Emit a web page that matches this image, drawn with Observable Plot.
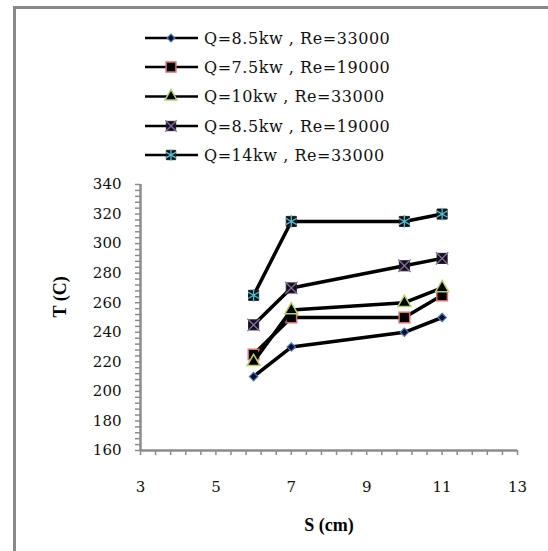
<!DOCTYPE html>
<html><head><meta charset="utf-8">
<script src="https://cdn.jsdelivr.net/npm/d3@7"></script>
<script src="https://cdn.jsdelivr.net/npm/@observablehq/plot@0.6"></script>
<style>
body{margin:0;background:#fff;}
#wrap{position:relative;width:548px;height:551px;overflow:hidden;background:#fff;}
#frame{position:absolute;left:13px;top:6px;width:560px;height:580px;border-left:3px solid #8a8a8a;border-top:3px solid #8a8a8a;}
#chart{position:absolute;left:0;top:0;}
#legend{position:absolute;left:0;top:0;}
</style></head><body>
<div id="wrap"><div id="frame"></div><div id="chart"></div><svg id="legend" width="548" height="172"></svg></div>
<script>
// ---- data ----
const S = [6, 7, 10, 11];
const seriesLabels = [
  "Q=8.5kw , Re=33000",
  "Q=7.5kw , Re=19000",
  "Q=10kw , Re=33000",
  "Q=8.5kw , Re=19000",
  "Q=14kw , Re=33000"
];
const T_q85_re33 = [210, 230, 240, 250];
const T_q75_re19 = [225, 250, 250, 265];
const T_q10_re33 = [220, 255, 260, 270];
const T_q85_re19 = [245, 270, 285, 290];
const T_q14_re33 = [265, 315, 315, 320];
const xTicks = [3, 5, 7, 9, 11, 13];
const yTicks = [160, 180, 200, 220, 240, 260, 280, 300, 320, 340];
const xLabel = "S (cm)";
const yLabel = "T (C)";

// ---- styles ----
const seriesValues = [T_q85_re33, T_q75_re19, T_q10_re33, T_q85_re19, T_q14_re33];
const markerStyles = [
  {base: {symbol: "diamond2", r: 3.8, fill: "#0a0a2a", stroke: "#4a7ebb", strokeWidth: 1.2}},
  {base: {symbol: "square", r: 6, fill: "#000", stroke: "#e06a6a", strokeWidth: 1.5}},
  {base: {symbol: "triangle", r: 4.8, fill: "#000", stroke: "#b3d36a", strokeWidth: 1.5}},
  {base: {symbol: "square", r: 5.7, fill: "#111", stroke: "#222", strokeWidth: 1}, over: {symbol: "times", r: 5.7, stroke: "#8a6ab5", strokeWidth: 1.3}},
  {base: {symbol: "square", r: 5.7, fill: "#111", stroke: "#222", strokeWidth: 1}, over: {symbol: "asterisk", r: 6, stroke: "#4bbfd8", strokeWidth: 1.3}}
];

const data = seriesValues.map((vals, i) => S.map((s, j) => ({s, t: vals[j], k: i})));
const gray = "#8c8c8c";
const minorX = d3.range(0, 26).map(i => +(3 + i * 0.4).toFixed(2));
const minorY = d3.range(160, 341, 4);

const marks = [
  Plot.axisY(minorY, {tickSize: 5, tickFormat: () => "", stroke: gray, strokeWidth: 1.5, label: null}),
  Plot.axisX(minorX, {tickSize: 5, tickFormat: () => "", stroke: gray, strokeWidth: 1.5, label: null}),
  Plot.axisY(yTicks, {tickSize: 0, tickPadding: 19, fontSize: 15, fontFamily: "DejaVu Serif", fill: "#111", label: null}),
  Plot.axisX(xTicks, {tickSize: 0, tickPadding: 31, fontSize: 15, fontFamily: "DejaVu Serif", fill: "#111", label: null}),
  Plot.ruleX([3], {stroke: gray, strokeWidth: 2.5}),
  Plot.ruleY([160], {stroke: gray, strokeWidth: 2.5}),
  Plot.text([yLabel], {frameAnchor: "left", dx: -80, rotate: -90, fontSize: 18, fontWeight: "bold", fontFamily: "Liberation Serif", fill: "#000"}),
  Plot.text([xLabel], {frameAnchor: "bottom", dy: 80, dx: 0, fontSize: 18, fontWeight: "bold", fontFamily: "Liberation Serif", fill: "#000"})
];
data.forEach((d, i) => {
  marks.push(Plot.line(d, {x: "s", y: "t", stroke: "#000", strokeWidth: 3.5}));
  const m = markerStyles[i];
  marks.push(Plot.dot(d, {x: "s", y: "t", ...m.base}));
  if (m.over) marks.push(Plot.dot(d, {x: "s", y: "t", fill: "none", ...m.over}));
});

const chart = Plot.plot({
  width: 548, height: 551,
  marginLeft: 140, marginRight: 31, marginTop: 184, marginBottom: 101,
  style: {background: "transparent", overflow: "visible"},
  x: {domain: [3, 13], axis: null},
  y: {domain: [160, 340], axis: null},
  marks
});
document.getElementById("chart").append(chart);

// ---- legend ----
const lg = d3.select("#legend");
const rowsY = [38, 67, 96.5, 126, 155];
const sym = {diamond2: d3.symbolDiamond2, square: d3.symbolSquare, triangle: d3.symbolTriangle, times: d3.symbolTimes, asterisk: d3.symbolAsterisk};
seriesLabels.forEach((lab, i) => {
  const y = rowsY[i];
  const g = lg.append("g");
  g.append("line").attr("x1", 145).attr("x2", 198).attr("y1", y).attr("y2", y).attr("stroke", "#000").attr("stroke-width", 2.5);
  const m = markerStyles[i];
  [m.base, m.over].filter(Boolean).forEach(s => {
    g.append("path").attr("d", d3.symbol(sym[s.symbol], s.r * s.r * Math.PI * 0.85)())
      .attr("transform", `translate(171,${y})`)
      .attr("fill", s.fill || "none").attr("stroke", s.stroke).attr("stroke-width", s.strokeWidth);
  });
  g.append("text").attr("x", 204).attr("y", y).attr("dy", "0.35em")
    .attr("font-family", "DejaVu Serif").attr("font-size", 16).attr("letter-spacing", "0.55px")
    .attr("fill", "#111").text(lab);
});
</script>
</body></html>
